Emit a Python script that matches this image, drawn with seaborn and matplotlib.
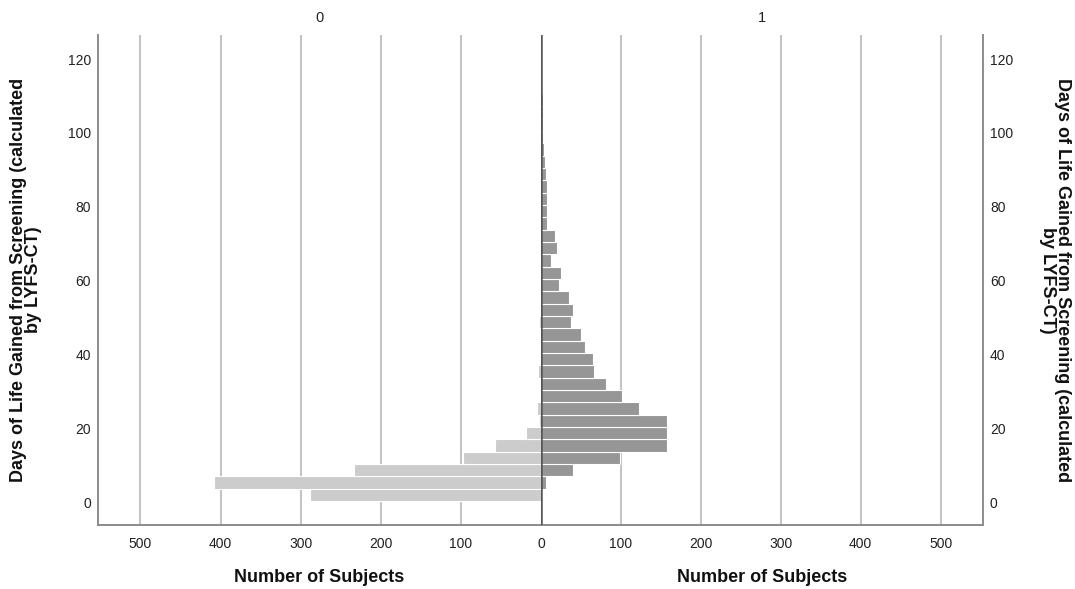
import numpy as np
import pandas as pd
import matplotlib
matplotlib.use("Agg")
import matplotlib.pyplot as plt
import seaborn as sns

# Histogram bins: days of life gained, width 10/3 days
bin_width = 10 / 3
bin_start = 0.5
n_bins = 36
bin_range = (bin_start, bin_start + n_bins * bin_width)
bin_centers = bin_start + bin_width * (np.arange(n_bins) + 0.5)

group_labels = ["0", "1"]

# Number of subjects per bin, bottom to top
counts_group0 = [288, 408, 233, 97, 57, 19, 2, 5, 1, 1, 4, 1,
                 0, 1, 2, 1, 0, 0, 0, 0, 0, 0, 0, 0,
                 0, 0, 0, 0, 0, 0, 0, 0, 0, 0, 0, 0]
counts_group1 = [0, 6, 40, 99, 158, 158, 158, 122, 101, 81, 66, 65,
                 55, 50, 37, 40, 35, 22, 25, 13, 20, 17, 8, 8,
                 7, 7, 6, 5, 4, 3, 3, 3, 2, 0, 0, 0]

x_ticks = [0, 100, 200, 300, 400, 500]
y_ticks = [0, 20, 40, 60, 80, 100, 120]
x_max = 553
y_range = (-6, 126.5)

y_title = "Days of Life Gained from Screening (calculated\nby LYFS-CT)"
x_title = "Number of Subjects"

df = pd.DataFrame({
    "days": np.concatenate([bin_centers, bin_centers]),
    "count": counts_group0 + counts_group1,
    "group": ["0"] * n_bins + ["1"] * n_bins,
})

sns.set_theme(style="white")
plt.rcParams["font.family"] = ["Liberation Sans", "DejaVu Sans"]

W, H = 1075, 589
fig = plt.figure(figsize=(W / 100, H / 100), dpi=100)

left_px, mid_px, right_px = 98, 541, 983
bottom_px, top_px = 525, 35
ax_b = 1 - bottom_px / H
ax_h = (bottom_px - top_px) / H
ax_l = fig.add_axes([left_px / W, ax_b, (mid_px - left_px) / W, ax_h])
ax_r = fig.add_axes([mid_px / W, ax_b, (right_px - mid_px) / W, ax_h], sharey=ax_l)

grid_color = "#c4c4c4"
spine_color = "#8c8c8c"
colors = {"0": "#cccccc", "1": "#969696"}

for ax, grp in [(ax_l, "0"), (ax_r, "1")]:
    sub = df[df["group"] == grp]
    for xv in x_ticks[1:]:
        ax.axvline(xv, color=grid_color, lw=1.5, zorder=0)
    sns.histplot(data=sub, y="days", weights="count",
                 binwidth=bin_width, binrange=bin_range,
                 color=colors[grp], edgecolor="white", linewidth=0.8,
                 alpha=1, ax=ax, zorder=2)
    ax.set_ylim(*y_range)
    ax.set_yticks(y_ticks)
    ax.set_xlabel("")
    ax.set_ylabel("")
    ax.tick_params(length=0, labelsize=10, colors="#222222")
    ax.tick_params(axis="x", pad=9)
    ax.tick_params(axis="y", pad=5)
    ax.spines["top"].set_visible(False)
    for s in ("bottom", "left", "right"):
        ax.spines[s].set_color(spine_color)
        ax.spines[s].set_linewidth(1.4)

ax_l.set_xlim(x_max, 0)
ax_l.set_xticks(x_ticks)
ax_l.spines["right"].set_visible(False)

ax_r.set_xlim(0, x_max)
ax_r.set_xticks(x_ticks[1:])
ax_r.spines["left"].set_visible(False)
ax_r.yaxis.tick_right()
ax_r.tick_params(axis="y", labelright=True, labelleft=False)

# Dark zero line between the two halves
ax_r.axvline(0, color="#555555", lw=1.8, zorder=3)

# Group headers
fig.text((left_px + mid_px) / 2 / W, 1 - 18 / H, group_labels[0],
         ha="center", va="center", fontsize=10.5, color="#222222")
fig.text((mid_px + right_px) / 2 / W, 1 - 18 / H, group_labels[1],
         ha="center", va="center", fontsize=10.5, color="#222222")

# Axis titles
for cx in ((left_px + mid_px) / 2, (mid_px + right_px) / 2):
    fig.text(cx / W, 1 - 578 / H, x_title, ha="center", va="center",
             fontsize=13, fontweight="bold", color="#111111")

cy = 1 - (bottom_px + top_px) / 2 / H
fig.text(26 / W, cy, y_title, ha="center", va="center", rotation=90,
         fontsize=13, fontweight="bold", color="#111111", linespacing=0.9)
fig.text(1055 / W, cy, y_title, ha="center", va="center", rotation=270,
         fontsize=13, fontweight="bold", color="#111111", linespacing=0.9)

fig.savefig("out.png", dpi=100, facecolor="white")
